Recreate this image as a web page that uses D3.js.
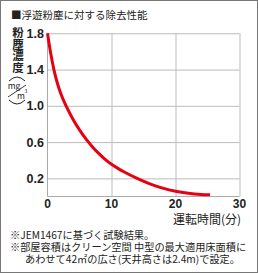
<!DOCTYPE html>
<html>
<head>
<meta charset="utf-8">
<script src="https://cdn.jsdelivr.net/npm/d3@7"></script>
<style>
  html, body { margin: 0; padding: 0; background: #fff; }
  svg { display: block; }
  .jp { font-family: "Noto Sans CJK JP", sans-serif; fill: #222; }
  .num { font-family: "Liberation Sans", Arial, sans-serif; font-weight: bold; fill: #222; }
</style>
</head>
<body>
<svg id="chart" width="258" height="273"></svg>
<script>
// data
const minutes = [0, 0.5, 1, 1.5, 2, 3, 4, 5, 6, 7, 8, 9, 10, 11, 12, 14, 16, 18, 20, 22, 24, 25.4];
const dust    = [1.8, 1.58, 1.4, 1.26, 1.15, 0.985, 0.85, 0.735, 0.635, 0.55, 0.475, 0.41, 0.355, 0.31, 0.27, 0.2, 0.14, 0.092, 0.057, 0.035, 0.023, 0.02];
const xTicks = [0, 10, 20, 30];
const yTicks = [0.2, 0.6, 1.0, 1.4, 1.8];
const yLabel = "粉塵濃度";
const notes = [
  "※JEM1467に基づく試験結果。",
  "※部屋容積はクリーン空間 中型の最大適用床面積に",
  "あわせて42㎡の広さ(天井高さは2.4m)で設定。"
];

const svg = d3.select("#chart");
const W = 258, H = 273;

// outer frame
svg.append("rect")
  .attr("x", 0.5).attr("y", 0.5)
  .attr("width", W - 1).attr("height", H - 1)
  .attr("fill", "none").attr("stroke", "#777");

const x = d3.scaleLinear().domain([0, 30]).range([47.5, 239.5]);
const y = d3.scaleLinear().domain([0, 1.8]).range([196.5, 33.3]);

// grid
const grid = svg.append("g");
grid.append("g")
  .attr("transform", `translate(0,${y(0)})`)
  .call(d3.axisBottom(x).tickValues(xTicks.slice(1)).tickSize(-(y(0) - y(1.8))).tickFormat(""))
  .call(g => g.select(".domain").remove());
grid.append("g")
  .attr("transform", `translate(${x(0)},0)`)
  .call(d3.axisLeft(y).tickValues(yTicks).tickSize(-(x(30) - x(0))).tickFormat(""))
  .call(g => g.select(".domain").remove());
grid.selectAll("line").attr("stroke", "#bbb").attr("stroke-width", 1);

// axis lines
svg.append("line")
  .attr("x1", x(0)).attr("x2", x(0)).attr("y1", y(1.8)).attr("y2", y(0))
  .attr("stroke", "#aaa");
svg.append("line")
  .attr("x1", x(0)).attr("x2", x(30)).attr("y1", y(0)).attr("y2", y(0))
  .attr("stroke", "#aaa");

// tick labels
svg.append("g").selectAll("text")
  .data(yTicks).join("text")
  .attr("class", "num")
  .attr("x", 44).attr("y", d => y(d) + 4.5)
  .attr("text-anchor", "end").attr("font-size", 12.5)
  .text(d => d.toFixed(1));
svg.append("g").selectAll("text")
  .data(xTicks).join("text")
  .attr("class", "num")
  .attr("x", d => x(d)).attr("y", 208)
  .attr("text-anchor", "middle").attr("font-size", 12)
  .text(d => d);

// curve
const pts = minutes.map((m, i) => [m, dust[i]]);
svg.append("path")
  .datum(pts)
  .attr("fill", "none")
  .attr("stroke", "#e60012")
  .attr("stroke-width", 3)
  .attr("d", d3.line().x(d => x(d[0])).y(d => y(d[1])).curve(d3.curveMonotoneX));

// title
svg.append("text")
  .attr("class", "jp")
  .attr("x", 11).attr("y", 19)
  .attr("font-size", 10.5)
  .text("■浮遊粉塵に対する除去性能");

// y title, vertical
svg.append("text")
  .attr("class", "jp")
  .attr("x", 18).attr("y", 27)
  .attr("font-size", 11.5).attr("font-weight", "bold")
  .style("writing-mode", "vertical-rl")
  .text(yLabel);

// unit (mg/m3) in rotated brackets
const unit = svg.append("g");
unit.append("path")
  .attr("d", "M9,81 Q17,73 25,81")
  .attr("fill", "none").attr("stroke", "#222").attr("stroke-width", 1);
unit.append("path")
  .attr("d", "M9,100 Q17,108 25,100")
  .attr("fill", "none").attr("stroke", "#222").attr("stroke-width", 1);
unit.append("text").attr("class", "jp")
  .attr("x", 14).attr("y", 89).attr("text-anchor", "middle").attr("font-size", 8.5)
  .text("mg");
unit.append("line")
  .attr("x1", 8).attr("y1", 97).attr("x2", 26).attr("y2", 85)
  .attr("stroke", "#222").attr("stroke-width", 0.9);
unit.append("text").attr("class", "jp")
  .attr("x", 21).attr("y", 98.5).attr("text-anchor", "middle").attr("font-size", 8.5)
  .text("m");
unit.append("text").attr("class", "jp")
  .attr("x", 26).attr("y", 93).attr("text-anchor", "middle").attr("font-size", 5)
  .text("3");

// x title
svg.append("text")
  .attr("class", "jp")
  .attr("x", 241).attr("y", 224)
  .attr("text-anchor", "end").attr("font-size", 12)
  .text("運転時間(分)");

// notes
svg.append("g").selectAll("text")
  .data(notes).join("text")
  .attr("class", "jp")
  .attr("x", (d, i) => i === 2 ? 25 : 10)
  .attr("y", (d, i) => 239 + i * 12)
  .attr("font-size", 10.2)
  .text(d => d);
</script>
</body>
</html>
